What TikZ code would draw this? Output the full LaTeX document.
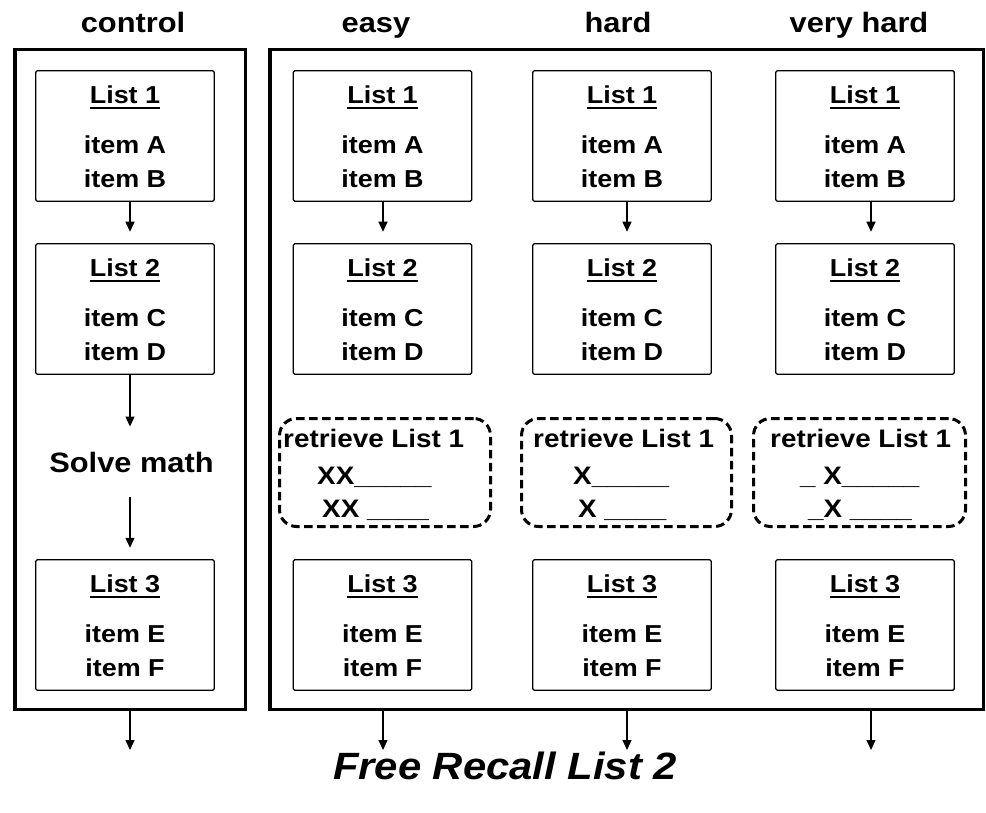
\documentclass[tikz,border=0pt]{standalone}
\usepackage{fontspec}
\setmainfont[FakeStretch=1.1]{Liberation Sans}
\usetikzlibrary{arrows.meta}
\newcommand\myul[1]{\setbox0\hbox{#1}\rlap{\rule[-5.5pt]{\wd0}{2.4pt}}\box0}
\tikzset{
 lbox/.style={draw, line width=1.4pt, rounded corners=1.5pt, minimum width=178.5pt, minimum height=130.5pt, inner sep=0pt, outer sep=0pt},
 ltxt/.style={inner sep=0pt, font=\fontsize{24.5}{29}\selectfont\bfseries},
 head/.style={inner sep=0pt, anchor=base, font=\fontsize{28}{32}\selectfont\bfseries},
 outerbox/.style={draw, line width=3.5pt, inner sep=0pt},
 dbox/.style={draw, line width=3pt, dash pattern=on 8.5pt off 4.5pt, rounded corners=17pt, minimum height=108pt, inner sep=0pt},
 rtxt/.style={inner sep=0pt, anchor=base west, font=\fontsize{25.3}{30}\selectfont\bfseries},
 arr/.style={line width=1.3pt, -{Triangle[length=10pt,width=9pt]}},
}
\newcommand\listbox[6]{%
 \node[lbox] (#1) at (#2,#3+66) {};
 \node[ltxt,anchor=base] (#1t) at (#2,#3+33.5) {\myul{#4}};
 \node[ltxt,anchor=base] (#1a) at (#2,#3+83.5) {#5};
 \node[ltxt,anchor=base] (#1b) at (#2,#3+117.5) {#6};}
\begin{document}
\begin{tikzpicture}[x=1pt,y=-1pt]
\useasboundingbox (0,0) rectangle (986,813);
% headings
\node[head] (hc) at (133,33) {control};
\node[head] (he) at (376,33) {easy};
\node[head] (hh) at (618,33) {hard};
\node[head] (hv) at (859,33) {very hard};
% outer boxes
\node[outerbox, minimum width=230.5pt, minimum height=659.5pt] (ctrl) at (130,379.5) {};
\node[outerbox, minimum width=713.5pt, minimum height=659.5pt] (exp) at (626.5,379.5) {};
% list boxes
\listbox{c1}{125}{70}{List 1}{item A}{item B}
\listbox{c2}{125}{243}{List 2}{item C}{item D}
\listbox{c3}{125}{559}{List 3}{item E}{item F}
\listbox{e1}{382.5}{70}{List 1}{item A}{item B}
\listbox{e2}{382.5}{243}{List 2}{item C}{item D}
\listbox{e3}{382.5}{559}{List 3}{item E}{item F}
\listbox{h1}{622}{70}{List 1}{item A}{item B}
\listbox{h2}{622}{243}{List 2}{item C}{item D}
\listbox{h3}{622}{559}{List 3}{item E}{item F}
\listbox{v1}{865}{70}{List 1}{item A}{item B}
\listbox{v2}{865}{243}{List 2}{item C}{item D}
\listbox{v3}{865}{559}{List 3}{item E}{item F}
% solve math
\node[inner sep=0pt, anchor=base, font=\fontsize{28}{32}\selectfont\bfseries] (sm) at (131.5,472) {Solve math};
% retrieve boxes
\node[dbox, minimum width=211pt] (er) at (385,472.5) {};
\node[dbox, minimum width=210pt] (hr) at (626.5,472.5) {};
\node[dbox, minimum width=212pt] (vr) at (859.5,472.5) {};
\node[rtxt] (ert) at (283,447) {retrieve List 1};
\node[rtxt] (er1) at (317,484) {XX\_\_\_\_\_};
\node[rtxt] (er2) at (322,517) {XX \_\_\_\_};
\node[rtxt] (hrt) at (533,447) {retrieve List 1};
\node[rtxt] (hr1) at (573,484) {X\_\_\_\_\_};
\node[rtxt] (hr2) at (578,517) {X \_\_\_\_};
\node[rtxt] (vrt) at (770,447) {retrieve List 1};
\node[rtxt] (vr1) at (800,484) {\_ X\_\_\_\_\_};
\node[rtxt] (vr2) at (808,517) {\_X \_\_\_\_};
% arrow columns
\coordinate (x0) at (130,0);
\coordinate (x1) at (383,0);
\coordinate (x2) at (627,0);
\coordinate (x3) at (871,0);
\foreach \col/\xx in {c/x0,e/x1,h/x2,v/x3}
  \draw[arr, shorten >=12pt] (\col1.south -| \xx) -- (\col2.north -| \xx);
\draw[arr, shorten >=25pt] (c2.south -| x0) -- (sm.north -| x0);
\draw[arr, shorten <=25pt, shorten >=12pt] (sm.south -| x0) -- (c3.north -| x0);
% final arrows
\coordinate (f0) at (130,750);
\coordinate (f1) at (383,750);
\coordinate (f2) at (627,750);
\coordinate (f3) at (871,750);
\draw[arr] (ctrl.south -| x0) -- (f0);
\draw[arr] (exp.south -| x1) -- (f1);
\draw[arr] (exp.south -| x2) -- (f2);
\draw[arr] (exp.south -| x3) -- (f3);
\node[inner sep=0pt, anchor=base, font=\fontsize{38}{42}\selectfont\bfseries\itshape] (fr) at (505,779) {Free Recall List 2};
\end{tikzpicture}
\end{document}
